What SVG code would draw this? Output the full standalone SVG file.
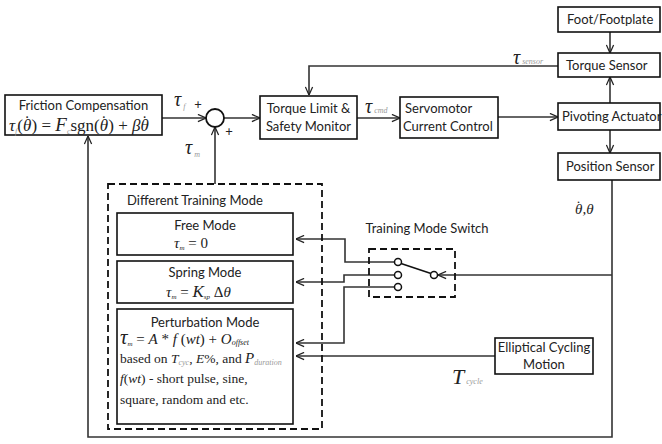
<svg xmlns="http://www.w3.org/2000/svg" width="662" height="444" viewBox="0 0 662 444">
<defs>
<marker id="arr" viewBox="0 0 10 10" refX="10" refY="5" markerWidth="9" markerHeight="9" orient="auto" markerUnits="userSpaceOnUse">
<path d="M1,1 L10,5 L1,9" fill="none" stroke="#222" stroke-width="1.4"/>
</marker>
</defs>
<style>
.box{fill:#fff;stroke:#111;stroke-width:1.6}
.dash{fill:none;stroke:#111;stroke-width:1.8;stroke-dasharray:7,4}
.ln{fill:none;stroke:#333;stroke-width:1.6}
.lbl{font-family:Lato,"Open Sans","Liberation Sans",sans-serif;font-size:13px;fill:#222}
.m{font-family:"Liberation Serif","DejaVu Serif",serif;font-style:italic;fill:#222}
.sub{font-family:"Liberation Serif",serif;font-style:italic;font-size:8px;fill:#999}
.sr{font-family:"Liberation Serif","DejaVu Serif",serif;font-size:13.5px;fill:#222}
.big{font-family:"Liberation Serif",serif;font-size:22px;font-style:italic;fill:#222}
</style>

<g id="connectors">
<path class="ln" d="M162,118 H206" marker-end="url(#arr)"/>
<path class="ln" d="M224,118 H260" marker-end="url(#arr)"/>
<path class="ln" d="M215,184 V127" marker-end="url(#arr)"/>
<path class="ln" d="M357,118 H400" marker-end="url(#arr)"/>
<path class="ln" d="M498,117 H558" marker-end="url(#arr)"/>
<path class="ln" d="M610,32 V53" marker-end="url(#arr)"/>
<path class="ln" d="M610,103 V77" marker-end="url(#arr)"/>
<path class="ln" d="M610,130 V153" marker-end="url(#arr)"/>
<path class="ln" d="M558,66 H309 V95" marker-end="url(#arr)"/>
<path class="ln" d="M612,180 V437 H88 V136" marker-end="url(#arr)"/>
<path class="ln" d="M612,275 H438" marker-end="url(#arr)"/>
<path class="ln" d="M394,262 H345 V239 H296" marker-end="url(#arr)"/>
<path class="ln" d="M394,275 H344 V282 H296" marker-end="url(#arr)"/>
<path class="ln" d="M394,287 H344 V343 H296" marker-end="url(#arr)"/>
<path class="ln" d="M495,356 H296" marker-end="url(#arr)"/>
</g>

<g id="friction">
<rect class="box" x="5" y="95" width="157" height="40"/>
<text class="lbl" x="83.5" y="110" text-anchor="middle">Friction Compensation</text>
<text class="m" x="9" y="131" font-size="17">τ<tspan class="sub" font-size="8" dy="3">f</tspan><tspan dy="-3" font-style="normal">(</tspan>θ<tspan dx="-7" dy="-4" font-style="normal">˙</tspan><tspan dx="1.5" dy="4" font-style="normal">) = </tspan><tspan font-size="19">F</tspan><tspan class="sub" font-size="8" dy="3">c</tspan><tspan dy="-3" font-style="normal">sgn(</tspan>θ<tspan dx="-7" dy="-4" font-style="normal">˙</tspan><tspan dx="1.5" dy="4" font-style="normal">) + </tspan>βθ<tspan dx="-7" dy="-4" font-style="normal">˙</tspan></text>
</g>

<g id="sum">
<circle cx="215" cy="118" r="9" fill="#fff" stroke="#111" stroke-width="1.8"/>
<text class="m" x="174" y="106" font-size="20">τ<tspan class="sub" dy="3"> f</tspan></text>
<text class="lbl" x="198" y="109" font-size="15" text-anchor="middle">+</text>
<text class="lbl" x="229" y="136" font-size="15" text-anchor="middle">+</text>
<text class="m" x="185" y="154" font-size="20">τ<tspan class="sub" dy="3"> m</tspan></text>
</g>

<g id="torque-limit">
<rect class="box" x="260" y="96" width="97" height="43"/>
<text class="lbl" x="308.5" y="113" text-anchor="middle">Torque Limit &amp;</text>
<text class="lbl" x="308.5" y="131" text-anchor="middle">Safety Monitor</text>
</g>

<text class="m" x="365" y="113" font-size="20">τ<tspan class="sub" font-size="9"> cmd</tspan></text>

<g id="servomotor">
<rect class="box" x="400" y="97" width="98" height="41"/>
<text class="lbl" x="405" y="113">Servomotor</text>
<text class="lbl" x="403" y="131">Current Control</text>
</g>

<g id="foot">
<rect class="box" x="558" y="7" width="102" height="25"/>
<text class="lbl" x="567" y="24">Foot/Footplate</text>
</g>

<g id="torque-sensor">
<rect class="box" x="558" y="53" width="102" height="24"/>
<text class="lbl" x="566" y="70">Torque Sensor</text>
</g>
<text class="m" x="513" y="64" font-size="20">τ<tspan class="sub"> sensor</tspan></text>

<g id="pivoting">
<rect class="box" x="558" y="103" width="102" height="27"/>
<text class="lbl" x="562" y="121">Pivoting Actuator</text>
</g>

<g id="position">
<rect class="box" x="558" y="153" width="102" height="27"/>
<text class="lbl" x="566" y="171">Position Sensor</text>
</g>
<text class="m" x="575" y="214" font-size="15" fill="#444">θ<tspan dx="-6.5" dy="-3" font-style="normal">˙</tspan><tspan dx="1.5" dy="3">,θ</tspan></text>

<g id="training-modes">
<rect class="dash" x="108" y="184" width="214" height="245"/>
<text class="lbl" x="127" y="205">Different Training Mode</text>
</g>

<g id="free-mode">
<rect class="box" x="117" y="213" width="176" height="42"/>
<text class="lbl" x="205" y="230" text-anchor="middle">Free Mode</text>
<text class="m" x="174" y="248" font-size="15">τ<tspan font-size="7" dy="2">m</tspan><tspan dy="-2" font-style="normal"> = 0</tspan></text>
</g>

<g id="spring-mode">
<rect class="box" x="117" y="261" width="176" height="42"/>
<text class="lbl" x="205" y="277" text-anchor="middle">Spring Mode</text>
<text class="m" x="166" y="297" font-size="15">τ<tspan font-size="7" dy="2">m</tspan><tspan dy="-2" font-style="normal"> = </tspan><tspan font-size="17">K</tspan><tspan font-size="7" dy="2">sp</tspan><tspan dy="-2" font-style="normal"> Δ</tspan>θ</text>
</g>

<g id="perturbation-mode">
<rect class="box" x="117" y="309" width="176" height="115"/>
<text class="lbl" x="205" y="327" text-anchor="middle">Perturbation Mode</text>
<text class="m" x="120" y="344" font-size="15"><tspan font-size="21">τ</tspan><tspan font-size="7" dy="2">m</tspan><tspan dy="-2" font-style="normal"> = </tspan>A<tspan font-style="normal"> * </tspan>f<tspan font-style="normal"> (</tspan>wt<tspan font-style="normal">) + </tspan>O<tspan font-size="8" dy="1">offset</tspan></text>
<text class="sr" x="120" y="363">based on <tspan font-style="italic">T</tspan><tspan class="sub" font-size="7.5" dy="2">cyc</tspan><tspan dy="-2">, </tspan><tspan font-style="italic">E</tspan>%, and <tspan font-style="italic" font-size="15">P</tspan><tspan class="sub" font-size="7.5" dy="2">duration</tspan></text>
<text class="sr" x="120" y="383"><tspan font-style="italic">f</tspan>(<tspan font-style="italic">wt</tspan>) - short pulse, sine,</text>
<text class="sr" x="120" y="404">square, random and etc.</text>
</g>

<g id="switch">
<text class="lbl" x="427" y="233" text-anchor="middle">Training Mode Switch</text>
<rect class="dash" x="369" y="249" width="86" height="48"/>
<circle cx="398" cy="262" r="3.5" fill="#fff" stroke="#111" stroke-width="1.5"/>
<circle cx="398" cy="275" r="3.5" fill="#fff" stroke="#111" stroke-width="1.5"/>
<circle cx="398" cy="287" r="3.5" fill="#fff" stroke="#111" stroke-width="1.5"/>
<line x1="401" y1="263.5" x2="431" y2="273.5" stroke="#111" stroke-width="1.5"/>
<circle cx="434" cy="275" r="3.5" fill="#fff" stroke="#111" stroke-width="1.5"/>
</g>

<g id="elliptical">
<rect class="box" x="495" y="338" width="98" height="36"/>
<text class="lbl" x="544" y="352" text-anchor="middle">Elliptical Cycling</text>
<text class="lbl" x="544" y="369" text-anchor="middle">Motion</text>
</g>
<text class="big" x="452" y="384">T<tspan class="sub"> cycle</tspan></text>
</svg>
